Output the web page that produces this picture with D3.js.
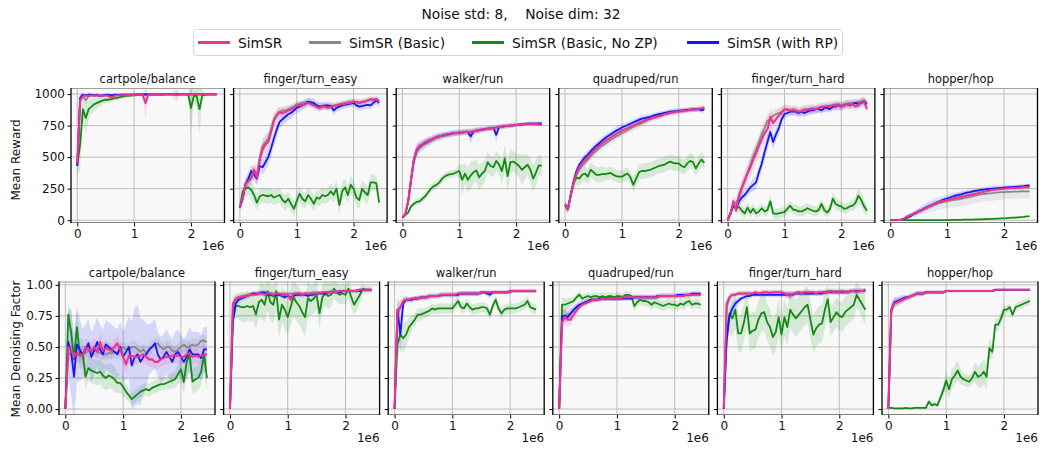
<!DOCTYPE html>
<html><head><meta charset="utf-8">
<script src="https://cdn.jsdelivr.net/npm/d3@7"></script>
<style>body{margin:0;background:#fff}svg{display:block}text{font-family:"DejaVu Sans",sans-serif}</style>
</head><body><svg id="c" width="1042" height="449"></svg>
<script>
// environment steps, in millions
const stepsM = [0,0.05,0.1,0.15,0.2,0.25,0.3,0.35,0.4,0.45,0.5,0.55,0.6,0.65,0.7,0.75,0.8,0.85,0.9,0.95,1,1.05,1.1,1.15,1.2,1.25,1.3,1.35,1.4,1.45,1.5,1.55,1.6,1.65,1.7,1.75,1.8,1.85,1.9,1.95,2,2.05,2.1,2.15,2.2,2.25,2.3,2.35,2.4,2.45];
const tasks = ["cartpole/balance","finger/turn_easy","walker/run","quadruped/run","finger/turn_hard","hopper/hop"];
const seriesNames = ["SimSR","SimSR (Basic)","SimSR (Basic, No ZP)","SimSR (with RP)"];
const xTicks = [0,1,2];
const rewardTicks = [0,250,500,750,1000];
const rewardTickLabels = ["0","250","500","750","1000"];
const denoiseTicks = [0,0.25,0.5,0.75,1.0];
const denoiseTickLabels = ["0.00","0.25","0.50","0.75","1.00"];

// ---------- Mean Reward ----------
const rwSimSR = [
[450,950,985,990,985,990,985,990,990,985, 990,985,970,985,990,990,990,990,995,990, 995,995,995,995,930,995,995,998,998,995, 998,998,998,998,998,990,998,998,998,998, 998,998,998,998,998,998,998,998,998,998],
[100,180,290,310,330,400,340,480,560,600, 620,700,790,830,860,850,860,870,880,890, 910,910,910,920,930,920,910,900,890,900, 900,890,900,905,910,915,920,920,930,930, 940,935,930,935,940,950,960,955,960,940],
[20,50,150,320,480,560,590,600,620,630, 640,650,660,665,670,675,680,685,690,690, 695,695,700,700,700,705,710,715,720,722, 725,728,730,735,740,742,745,748,750,752, 755,758,760,762,765,765,763,762,760,755],
[120,90,200,300,370,420,450,480,500,525, 550,570,590,610,625,640,655,670,685,695, 710,720,730,740,750,760,770,780,790,800, 805,810,820,825,830,840,845,850,855,860, 862,865,868,870,875,878,880,882,888,892],
[0,50,150,80,200,260,320,370,420,480, 530,590,640,690,720,820,770,800,830,850, 880,875,870,870,870,860,865,870,875,880, 880,880,890,900,900,905,900,910,910,905, 900,910,920,915,920,900,910,940,940,880],
[0,0,0,2,5,15,30,40,50,60, 70,80,90,100,110,120,130,140,150,155, 160,165,170,175,180,185,190,195,200,205, 210,215,220,225,230,235,240,243,245,248, 250,252,254,255,256,258,260,262,263,262]];
const rwBasic = [
[440,940,990,950,985,990,990,985,990,990, 990,990,985,990,995,990,995,995,995,995, 995,995,995,995,995,995,998,998,998,998, 998,998,998,998,998,998,998,998,998,998, 998,998,998,998,998,998,998,998,998,998],
[100,170,280,320,350,390,360,500,590,620, 650,720,800,840,860,870,870,880,890,900, 920,920,930,935,940,935,920,910,900,905, 905,900,905,910,915,920,925,930,935,940, 940,940,935,940,945,950,955,955,950,945],
[20,45,140,300,460,540,575,590,605,615, 625,640,650,660,665,670,675,680,685,688, 690,695,698,700,702,705,710,715,718,720, 725,728,730,735,740,742,745,748,750,752, 755,757,760,762,763,765,765,765,765,765],
[120,90,190,290,360,400,430,455,480,505, 530,550,570,590,605,620,635,650,665,675, 690,700,715,725,740,750,760,770,780,790, 800,810,815,825,830,840,845,850,855,860, 862,865,868,870,875,878,880,882,885,890],
[0,60,140,140,180,250,310,380,440,510, 560,620,680,730,790,800,830,840,850,860, 880,880,870,880,870,860,870,880,880,880, 890,880,890,900,890,900,910,910,920,920, 910,920,920,930,930,930,940,940,950,930],
[0,0,0,2,5,15,30,40,50,60, 70,80,90,100,110,120,128,135,140,145, 150,155,160,162,165,170,175,180,185,190, 195,200,205,208,210,213,215,218,220,222, 223,224,225,226,226,227,228,228,228,228]];
const rwNoZP = [
[430,600,880,810,880,900,920,930,940,950, 955,955,960,965,970,975,980,985,985,990, 990,992,995,995,995,995,995,995,995,995, 995,998,998,998,998,998,998,998,998,998, 890,985,985,880,990,995,998,998,998,998],
[100,230,250,260,240,200,140,190,200,195, 190,200,180,190,200,160,140,170,130,90, 150,210,170,150,200,170,130,180,170,200, 190,200,230,200,250,120,230,260,200,280, 250,180,160,250,220,200,300,300,295,140],
[20,40,60,110,130,145,150,170,190,220, 250,270,280,300,330,350,360,365,370,380, 390,320,370,320,355,380,395,340,370,390, 460,430,420,470,440,390,490,350,460,465, 450,430,400,420,440,400,330,380,435,430],
[120,85,200,290,340,330,360,370,345,400, 380,360,360,365,365,370,375,360,350,345, 345,360,370,340,280,330,380,390,390,395, 400,410,420,430,435,440,455,464,455,450, 450,430,420,450,470,460,410,450,480,455],
[0,60,110,95,105,75,55,100,60,90, 55,70,95,70,80,150,55,50,55,60, 65,90,115,85,80,70,70,80,95,85, 75,70,80,130,80,60,90,170,130,115, 110,90,95,110,115,140,195,160,110,75],
[0,0,0,0,0,0,0,0,0,0, 0,0,0,0,0,0,0,0,0,0, 0,1,2,2,3,3,4,4,5,5, 6,6,7,8,9,10,11,12,13,14, 15,16,18,20,20,22,24,26,30,30]];
const rwRP = [
[430,970,995,990,995,995,990,995,985,990, 995,995,990,995,995,995,995,995,995,995, 998,998,998,998,998,998,998,998,998,998, 998,998,998,998,998,998,998,998,998,998, 998,998,998,998,998,998,998,998,998,998],
[100,170,290,330,390,360,330,430,420,460, 500,570,650,720,780,800,820,840,850,870, 890,900,910,920,940,935,930,910,900,905, 910,910,905,870,890,900,910,915,920,925, 930,910,900,905,910,915,910,930,950,930],
[20,50,150,320,480,555,585,600,615,630, 640,650,660,665,672,678,682,686,690,692, 695,697,700,700,663,705,708,712,718,722, 725,728,732,676,740,742,746,748,750,752, 756,758,760,762,765,765,766,766,767,765],
[120,90,200,310,390,440,470,500,520,545, 570,590,610,630,650,665,680,695,710,720, 735,745,755,765,775,785,795,805,810,815, 820,830,835,840,845,850,855,860,862,865, 867,870,872,875,877,878,878,880,870,880],
[0,50,130,90,150,180,200,230,260,280, 300,380,450,540,620,700,620,680,730,800, 840,850,860,860,860,850,860,850,860,870, 870,880,880,870,890,890,880,900,900,910, 900,910,920,910,920,930,920,930,940,920],
[0,0,0,0,5,10,20,30,45,55, 70,80,95,105,115,125,135,145,155,165, 172,180,188,195,200,205,212,218,222,228, 232,236,240,243,246,248,250,252,254,256, 258,260,262,263,265,266,268,270,275,276]];

const rwSimSRsd = [
[60,40,20,15,10,10,10,10,10,10, 10,10,25,10,10,8,8,8,8,8, 8,8,8,8,130,8,8,6,6,6, 6,6,6,6,30,50,6,6,6,6, 6,6,6,6,6,6,6,6,6,6],
[20,30,40,40,50,60,60,70,70,70, 70,70,60,50,40,40,40,35,35,30, 30,30,30,30,30,30,30,30,30,30, 25,25,25,25,25,25,25,25,25,25, 25,25,25,25,25,25,25,25,25,25],
[5,10,20,30,40,40,30,25,25,25, 20,20,20,20,20,20,20,20,20,20, 20,20,20,20,20,20,20,20,15,15, 15,15,15,15,15,15,15,15,15,15, 15,15,15,15,15,15,15,15,15,15],
[30,30,30,30,30,30,30,30,30,30, 30,30,30,30,30,30,30,30,30,30, 25,25,25,25,25,25,25,25,25,25, 20,20,20,20,20,20,20,20,20,20, 20,20,20,20,20,20,20,20,20,20],
[5,20,40,50,60,70,70,80,80,80, 80,80,80,80,80,70,70,60,60,50, 40,40,40,40,40,40,40,40,40,40, 35,35,35,35,35,35,35,35,35,35, 35,35,35,35,35,35,35,35,35,50],
[2,2,2,3,5,8,10,12,15,15, 15,15,15,15,15,15,15,15,15,15, 15,15,15,15,15,15,15,15,15,15, 15,15,15,15,15,15,15,15,15,15, 15,15,15,15,15,15,15,15,15,15]];
const rwBasicSd = [
[60,50,20,40,20,10,10,10,10,10, 10,10,10,8,8,8,8,8,8,8, 8,8,8,8,8,8,6,6,6,6, 6,6,6,6,6,6,6,6,6,6, 6,6,6,6,6,6,6,6,6,6],
[20,30,40,40,50,50,50,60,60,60, 60,60,50,40,35,35,35,30,30,30, 25,25,25,25,25,25,25,25,25,25, 25,25,25,25,25,25,25,25,25,25, 25,25,25,25,25,25,25,25,25,25],
[5,10,20,30,50,50,40,40,35,35, 30,30,30,30,30,25,25,25,25,25, 25,25,25,25,25,25,25,20,20,20, 20,20,20,20,20,20,20,20,20,20, 15,15,15,15,15,15,15,15,15,15],
[30,30,30,30,30,30,30,30,30,30, 30,30,30,30,30,30,30,30,30,30, 30,30,30,30,30,30,30,30,30,30, 25,25,25,25,25,25,25,25,25,25, 20,20,20,20,20,20,20,20,20,20],
[5,20,40,50,60,60,60,60,60,60, 60,60,60,60,60,50,50,40,40,40, 30,30,30,30,30,30,30,30,30,30, 30,30,30,30,30,30,30,30,30,30, 30,30,30,30,30,30,30,30,30,30],
[2,2,2,3,5,8,10,12,15,20, 25,30,35,40,45,50,50,50,55,55, 55,55,60,60,60,60,60,60,60,60, 60,60,60,60,60,60,60,60,60,60, 55,55,55,55,55,55,55,55,55,55]];
const rwNoZPsd = [
[80,200,100,120,80,60,50,40,35,30, 25,25,20,20,20,15,15,15,12,12, 10,10,10,10,10,10,10,10,10,10, 10,10,10,10,10,10,10,10,10,10, 200,60,80,190,40,10,10,10,10,10],
[20,50,60,60,70,70,60,60,60,60, 60,60,60,60,60,60,60,60,60,60, 60,60,60,60,60,60,60,60,60,60, 60,60,60,60,70,70,70,70,70,70, 70,70,70,70,70,70,70,60,60,60],
[5,10,15,20,25,25,25,25,25,30, 30,30,30,30,30,30,30,30,30,30, 60,120,80,100,110,90,90,100,90,90, 80,80,80,80,80,100,100,120,100,80, 80,90,120,100,80,100,100,100,80,80],
[30,30,50,60,60,60,60,60,60,60, 60,60,60,60,50,50,50,50,50,50, 50,50,50,50,60,60,60,60,60,60, 60,60,60,60,60,60,60,60,60,60, 60,60,60,60,60,60,60,60,60,50],
[5,30,40,40,40,40,40,40,40,40, 40,40,40,40,40,50,40,40,40,40, 40,40,40,40,40,40,40,40,40,40, 40,40,40,40,40,40,40,50,50,40, 40,40,40,40,40,50,60,50,50,40],
[2,2,2,2,2,2,2,2,2,2, 2,2,2,2,2,2,2,2,2,2, 3,3,3,3,3,3,3,3,4,4, 4,4,4,4,4,5,5,5,5,5, 5,5,5,5,5,6,6,6,6,6]];
const rwRPsd = [
[60,30,8,8,8,8,8,8,10,8, 6,6,6,6,6,6,6,6,6,6, 5,5,5,5,5,5,5,5,5,5, 5,5,5,5,5,5,5,5,5,5, 5,5,5,5,5,5,5,5,5,5],
[20,30,40,50,50,50,50,60,60,60, 60,60,60,60,50,50,50,45,45,40, 40,40,35,35,35,35,35,35,35,35, 30,30,30,40,30,30,30,30,30,30, 30,30,30,30,30,30,30,30,30,30],
[5,10,20,30,50,50,40,40,35,35, 30,30,30,30,25,25,25,25,25,25, 25,25,25,25,60,25,25,25,20,20, 20,20,20,60,20,20,20,20,20,15, 15,15,15,15,15,15,15,15,15,15],
[30,30,30,30,30,30,30,30,30,30, 30,30,30,30,30,30,30,30,30,30, 25,25,25,25,25,25,25,25,25,25, 20,20,20,20,20,20,20,20,20,20, 20,20,20,20,20,20,20,20,20,20],
[5,20,30,30,40,40,40,40,40,50, 50,50,60,60,60,60,60,50,50,40, 30,30,30,30,30,30,30,30,30,30, 30,30,30,30,30,30,30,30,30,30, 30,30,30,30,30,30,30,30,30,30],
[2,2,2,3,5,8,10,15,20,25, 25,25,25,25,25,25,25,20,20,20, 20,20,20,20,20,20,20,15,15,15, 15,15,15,15,15,15,15,15,15,15, 15,15,15,15,15,15,15,15,15,15]];

// ---------- Mean Denoising Factor ----------
const dnSimSR = [
[0,.50,.47,.42,.45,.43,.43,.50,.48,.47, .50,.46,.54,.47,.49,.48,.47,.50,.53,.48, .42,.36,.43,.43,.42,.42,.43,.44,.42,.40, .40,.38,.38,.40,.41,.42,.42,.43,.43,.43, .42,.42,.44,.45,.42,.43,.42,.43,.44,.44],
[0,.85,.89,.90,.90,.91,.91,.92,.92,.92, .93,.93,.92,.93,.93,.92,.93,.93,.92,.92, .92,.88,.93,.93,.93,.92,.93,.93,.93,.93, .93,.93,.94,.94,.94,.94,.94,.94,.95,.95, .95,.95,.95,.95,.95,.96,.96,.96,.96,.96],
[0,.80,.82,.87,.88,.88,.89,.89,.89,.90, .90,.90,.91,.91,.91,.91,.92,.92,.92,.92, .92,.92,.93,.93,.93,.93,.93,.93,.93,.93, .94,.94,.94,.94,.94,.94,.94,.94,.94,.94, .95,.95,.95,.95,.95,.95,.95,.95,.95,.95],
[0,.70,.74,.72,.72,.76,.79,.82,.84,.85, .86,.87,.88,.88,.88,.89,.89,.89,.89,.89, .89,.89,.90,.90,.90,.90,.90,.90,.90,.90, .90,.90,.90,.90,.90,.91,.91,.91,.91,.91, .91,.91,.91,.91,.92,.92,.92,.92,.92,.92],
[0,.85,.90,.92,.92,.93,.93,.93,.93,.93, .93,.94,.93,.93,.94,.94,.93,.94,.94,.94, .94,.93,.92,.91,.93,.93,.94,.93,.94,.94, .94,.94,.93,.94,.94,.94,.94,.95,.94,.94, .94,.95,.94,.94,.95,.95,.94,.95,.95,.95],
[0,.80,.85,.86,.87,.88,.89,.90,.91,.92, .93,.93,.93,.94,.94,.94,.94,.94,.94,.94, .95,.95,.95,.95,.95,.95,.95,.95,.95,.95, .95,.95,.95,.95,.95,.95,.95,.96,.96,.96, .96,.96,.96,.96,.96,.96,.96,.96,.96,.96]];
const dnBasic = [
[0,.45,.44,.45,.44,.43,.44,.45,.47,.46, .48,.46,.45,.44,.44,.45,.45,.46,.45,.48, .50,.48,.48,.50,.50,.48,.46,.48,.45,.47, .50,.52,.53,.50,.48,.50,.50,.47,.46,.48, .50,.52,.50,.50,.52,.51,.52,.55,.55,.54],
[0,.80,.88,.90,.91,.91,.92,.92,.93,.93, .93,.93,.93,.93,.93,.93,.93,.92,.93,.93, .93,.93,.92,.93,.93,.93,.93,.93,.93,.94, .94,.94,.94,.94,.94,.95,.95,.95,.95,.95, .95,.95,.95,.95,.96,.96,.96,.96,.96,.96],
[0,.75,.82,.87,.88,.88,.88,.89,.89,.89, .90,.90,.90,.91,.91,.91,.91,.92,.92,.92, .92,.92,.92,.93,.93,.93,.93,.93,.93,.93, .93,.94,.94,.94,.94,.94,.94,.94,.94,.94, .94,.95,.95,.95,.95,.95,.95,.95,.95,.95],
[0,.72,.76,.76,.77,.79,.82,.84,.85,.86, .87,.88,.88,.88,.89,.89,.89,.89,.89,.89, .89,.89,.90,.90,.90,.90,.90,.90,.90,.90, .90,.90,.90,.90,.90,.91,.91,.91,.91,.91, .91,.91,.91,.91,.92,.92,.92,.92,.92,.92],
[0,.82,.90,.92,.92,.93,.93,.93,.93,.93, .93,.93,.93,.94,.94,.94,.94,.94,.94,.94, .94,.93,.93,.93,.93,.94,.94,.94,.94,.94, .94,.94,.94,.94,.94,.94,.95,.95,.95,.95, .95,.95,.95,.95,.95,.95,.95,.95,.95,.95],
[0,.78,.85,.86,.87,.88,.89,.90,.91,.92, .93,.93,.93,.94,.94,.94,.94,.94,.94,.94, .95,.95,.95,.95,.95,.95,.95,.95,.95,.95, .95,.95,.95,.95,.95,.95,.95,.96,.96,.96, .96,.96,.96,.96,.96,.96,.96,.96,.96,.96]];
const dnNoZP = [
[0,.76,.62,.40,.66,.44,.45,.26,.33,.31, .30,.29,.30,.27,.25,.27,.26,.24,.21,.21, .18,.14,.11,.08,.10,.12,.14,.15,.16,.15, .17,.18,.19,.20,.20,.21,.22,.23,.24,.28, .32,.22,.38,.44,.22,.24,.25,.30,.44,.25],
[0,.70,.83,.83,.82,.82,.83,.82,.83,.76, .86,.88,.84,.95,.86,.84,.95,.72,.84,.80, .74,.82,.90,.86,.83,.78,.74,.89,.87,.89, .92,.77,.90,.93,.91,.92,.97,.94,.92,.93, .92,.97,.90,.84,.88,.92,.97,.96,.96,.96],
[0,.52,.60,.57,.60,.66,.69,.72,.76,.76, .77,.78,.79,.81,.80,.81,.81,.81,.81,.81, .81,.84,.87,.82,.81,.85,.82,.80,.81,.81, .82,.82,.81,.76,.83,.88,.81,.77,.80,.81, .81,.81,.81,.82,.83,.84,.87,.82,.81,.80],
[0,.84,.84,.85,.86,.87,.90,.92,.89,.90, .91,.90,.91,.91,.90,.91,.90,.91,.91,.90, .91,.91,.90,.92,.92,.91,.83,.86,.88,.87, .87,.86,.84,.86,.85,.84,.83,.84,.85,.84, .84,.83,.85,.84,.86,.87,.84,.85,.85,.84],
[0,.62,.77,.73,.80,.61,.61,.70,.82,.61, .63,.64,.72,.77,.78,.70,.66,.58,.62,.74, .60,.74,.66,.80,.76,.73,.76,.79,.82,.84, .72,.60,.65,.68,.69,.80,.885,.70,.74,.78, .75,.74,.78,.80,.82,.84,.92,.88,.84,.80],
[.01,.01,.005,.005,.005,.005,.01,.005,.005,.01, .01,.01,.01,.01,.06,.03,.04,.03,.09,.15, .23,.16,.24,.27,.31,.26,.24,.23,.22,.25, .30,.26,.27,.30,.26,.49,.46,.68,.68,.73, .80,.80,.82,.76,.82,.83,.84,.85,.86,.87]];
const dnRP = [
[0,.54,.46,.26,.52,.48,.44,.48,.53,.42, .47,.54,.48,.44,.52,.50,.48,.46,.44,.50, .42,.46,.50,.35,.42,.44,.38,.42,.44,.48, .50,.53,.44,.40,.42,.46,.42,.38,.44,.46, .42,.38,.42,.48,.44,.44,.44,.41,.48,.48],
[0,.72,.85,.88,.89,.90,.91,.92,.93,.93, .93,.94,.94,.92,.92,.91,.92,.92,.91,.90, .91,.90,.91,.92,.92,.92,.92,.91,.92,.92, .93,.93,.93,.93,.94,.94,.94,.94,.94,.95, .95,.95,.95,.95,.95,.95,.96,.96,.96,.96],
[0,.80,.60,.85,.88,.88,.88,.89,.89,.90, .90,.90,.91,.91,.91,.91,.92,.92,.92,.92, .92,.92,.92,.93,.93,.93,.93,.93,.93,.93, .94,.94,.93,.92,.94,.94,.94,.94,.94,.94, .95,.95,.95,.95,.95,.95,.95,.95,.95,.95],
[0,.75,.75,.74,.77,.80,.82,.84,.85,.86, .87,.88,.88,.88,.89,.89,.89,.89,.89,.89, .89,.89,.89,.89,.89,.89,.90,.90,.90,.90, .90,.90,.90,.90,.91,.91,.91,.91,.91,.91, .91,.92,.92,.92,.92,.92,.93,.93,.93,.93],
[0,.55,.75,.81,.85,.87,.89,.90,.91,.91, .92,.92,.92,.92,.92,.92,.92,.92,.92,.92, .92,.92,.92,.92,.92,.93,.93,.93,.93,.93, .93,.93,.93,.93,.93,.94,.94,.94,.94,.94, .94,.94,.94,.94,.95,.95,.95,.95,.95,.96],
[0,.80,.86,.87,.88,.89,.90,.90,.91,.92, .93,.93,.93,.94,.94,.94,.94,.94,.94,.94, .95,.95,.95,.95,.95,.95,.95,.95,.95,.95, .95,.95,.95,.95,.95,.95,.95,.96,.96,.96, .96,.96,.96,.96,.96,.96,.96,.96,.96,.96]];

const dnSimSRsd = [
[0,.08,.08,.08,.08,.07,.07,.07,.07,.07, .07,.07,.07,.07,.07,.06,.06,.06,.06,.06, .06,.06,.06,.06,.06,.06,.06,.06,.06,.06, .06,.06,.06,.06,.06,.06,.06,.06,.06,.06, .06,.06,.06,.06,.06,.06,.06,.06,.06,.06],
[0,.05,.03,.02,.02,.02,.02,.02,.02,.02, .02,.02,.02,.02,.02,.02,.02,.02,.02,.02, .02,.03,.02,.02,.02,.02,.02,.02,.02,.02, .015,.015,.015,.015,.015,.015,.015,.015,.015,.015, .015,.015,.015,.015,.015,.015,.015,.015,.015,.015],
[0,.08,.05,.03,.02,.02,.02,.02,.02,.02, .02,.02,.02,.02,.02,.02,.02,.02,.02,.02, .02,.02,.02,.02,.02,.02,.02,.02,.02,.02, .015,.015,.015,.015,.015,.015,.015,.015,.015,.015, .015,.015,.015,.015,.015,.015,.015,.015,.015,.015],
[0,.08,.06,.06,.05,.04,.03,.03,.02,.02, .02,.02,.02,.02,.02,.02,.02,.02,.02,.02, .02,.02,.02,.02,.02,.02,.02,.02,.02,.02, .02,.02,.02,.02,.02,.02,.02,.02,.02,.02, .02,.02,.02,.02,.02,.02,.02,.02,.02,.02],
[0,.05,.03,.02,.02,.02,.02,.02,.02,.02, .02,.02,.02,.02,.02,.02,.02,.02,.02,.02, .02,.02,.03,.03,.02,.02,.02,.02,.02,.02, .02,.02,.02,.02,.02,.02,.02,.02,.02,.02, .02,.02,.02,.02,.02,.02,.02,.02,.02,.02],
[0,.05,.04,.03,.03,.03,.02,.02,.02,.02, .02,.02,.02,.015,.015,.015,.015,.015,.015,.015, .01,.01,.01,.01,.01,.01,.01,.01,.01,.01, .01,.01,.01,.01,.01,.01,.01,.01,.01,.01, .01,.01,.01,.01,.01,.01,.01,.01,.01,.01]];
const dnBasicSd = [
[0,.06,.06,.06,.06,.05,.05,.05,.05,.05, .05,.05,.05,.05,.05,.05,.05,.05,.05,.05, .05,.05,.05,.05,.05,.05,.05,.05,.05,.05, .05,.05,.05,.05,.05,.05,.05,.05,.05,.05, .05,.05,.05,.05,.05,.05,.05,.05,.05,.05],
[0,.05,.03,.02,.02,.02,.02,.02,.02,.02, .02,.02,.02,.02,.02,.02,.02,.02,.02,.02, .02,.02,.02,.02,.02,.02,.02,.02,.02,.02, .015,.015,.015,.015,.015,.015,.015,.015,.015,.015, .015,.015,.015,.015,.015,.015,.015,.015,.015,.015],
[0,.10,.06,.03,.02,.02,.02,.02,.02,.02, .02,.02,.02,.02,.02,.02,.02,.02,.02,.02, .02,.02,.02,.02,.02,.02,.02,.02,.02,.02, .015,.015,.015,.015,.015,.015,.015,.015,.015,.015, .015,.015,.015,.015,.015,.015,.015,.015,.015,.015],
[0,.07,.05,.05,.04,.04,.03,.03,.02,.02, .02,.02,.02,.02,.02,.02,.02,.02,.02,.02, .02,.02,.02,.02,.02,.02,.02,.02,.02,.02, .02,.02,.02,.02,.02,.02,.02,.02,.02,.02, .02,.02,.02,.02,.02,.02,.02,.02,.02,.02],
[0,.05,.03,.02,.02,.02,.02,.02,.02,.02, .02,.02,.02,.02,.02,.02,.02,.02,.02,.02, .02,.02,.02,.02,.02,.02,.02,.02,.02,.02, .02,.02,.02,.02,.02,.02,.02,.02,.02,.02, .02,.02,.02,.02,.02,.02,.02,.02,.02,.02],
[0,.05,.04,.04,.03,.03,.02,.02,.02,.02, .02,.02,.02,.015,.015,.015,.015,.015,.015,.015, .01,.01,.01,.01,.01,.01,.01,.01,.01,.01, .01,.01,.01,.01,.01,.01,.01,.01,.01,.01, .01,.01,.01,.01,.01,.01,.01,.01,.01,.01]];
const dnNoZPsd = [
[0,.10,.15,.15,.15,.12,.12,.10,.10,.10, .10,.10,.10,.10,.10,.10,.10,.10,.08,.08, .08,.06,.05,.05,.05,.05,.05,.05,.05,.05, .05,.05,.05,.05,.05,.05,.06,.06,.07,.08, .10,.10,.12,.12,.10,.10,.10,.10,.15,.10],
[0,.12,.10,.10,.12,.12,.12,.12,.12,.12, .12,.15,.15,.15,.15,.15,.15,.15,.15,.15, .15,.15,.15,.15,.15,.15,.15,.15,.12,.12, .12,.12,.10,.10,.10,.10,.08,.08,.08,.08, .08,.08,.08,.08,.08,.06,.04,.03,.03,.03],
[0,.10,.12,.12,.10,.08,.06,.05,.05,.05, .04,.04,.04,.04,.04,.04,.04,.04,.04,.04, .04,.04,.04,.04,.04,.04,.04,.04,.04,.04, .04,.04,.04,.04,.04,.04,.04,.04,.04,.04, .04,.04,.04,.04,.04,.04,.04,.04,.04,.04],
[0,.06,.05,.04,.04,.03,.03,.03,.03,.03, .03,.03,.03,.03,.03,.03,.03,.03,.03,.03, .03,.03,.03,.03,.03,.03,.04,.04,.04,.04, .04,.04,.04,.04,.04,.04,.04,.04,.04,.04, .04,.04,.04,.04,.04,.04,.04,.04,.04,.04],
[0,.15,.15,.15,.15,.15,.15,.15,.15,.15, .15,.15,.15,.15,.15,.15,.15,.15,.15,.15, .15,.15,.15,.15,.15,.15,.15,.15,.15,.15, .15,.15,.15,.15,.15,.15,.12,.12,.12,.12, .12,.12,.12,.12,.12,.12,.10,.10,.12,.12],
[.005,.005,.005,.005,.005,.005,.005,.005,.005,.005, .005,.005,.005,.01,.02,.02,.02,.02,.03,.05, .08,.08,.08,.08,.08,.06,.05,.05,.05,.05, .08,.08,.10,.10,.10,.08,.06,.05,.05,.05, .04,.03,.03,.03,.03,.03,.03,.03,.03,.03]];
const dnRPsd = [
[0,.25,.35,.35,.30,.25,.20,.20,.20,.20, .20,.20,.20,.20,.20,.20,.20,.20,.20,.20, .20,.22,.25,.35,.40,.40,.35,.30,.25,.20, .20,.20,.18,.18,.18,.18,.18,.18,.18,.18, .18,.18,.18,.18,.18,.18,.18,.18,.18,.18],
[0,.06,.04,.03,.02,.02,.02,.02,.02,.02, .02,.02,.02,.02,.02,.02,.02,.02,.02,.02, .02,.02,.02,.02,.02,.02,.02,.02,.02,.02, .015,.015,.015,.015,.015,.015,.015,.015,.015,.015, .015,.015,.015,.015,.015,.015,.015,.015,.015,.015],
[0,.10,.15,.05,.03,.02,.02,.02,.02,.02, .02,.02,.02,.02,.02,.02,.02,.02,.02,.02, .02,.02,.02,.02,.02,.02,.02,.02,.02,.02, .015,.015,.02,.03,.015,.015,.015,.015,.015,.015, .015,.015,.015,.015,.015,.015,.015,.015,.015,.015],
[0,.06,.05,.04,.04,.03,.03,.02,.02,.02, .02,.02,.02,.02,.02,.02,.02,.02,.02,.02, .02,.02,.02,.02,.02,.02,.02,.02,.02,.02, .02,.02,.02,.02,.02,.02,.02,.02,.02,.02, .02,.02,.02,.02,.02,.02,.02,.02,.02,.02],
[0,.08,.06,.05,.04,.03,.02,.02,.02,.02, .02,.02,.02,.02,.02,.02,.02,.02,.02,.02, .02,.02,.03,.03,.02,.02,.02,.02,.02,.02, .02,.02,.02,.02,.02,.02,.02,.02,.02,.02, .02,.02,.02,.02,.02,.02,.02,.02,.02,.02],
[0,.05,.04,.03,.03,.03,.02,.02,.02,.02, .02,.02,.02,.015,.015,.015,.015,.015,.015,.015, .01,.01,.01,.01,.01,.01,.01,.01,.01,.01, .01,.01,.01,.01,.01,.01,.01,.01,.01,.01, .01,.01,.01,.01,.01,.01,.01,.01,.01,.01]];

// ---------- drawing ----------
const colors = ["#e8358f","#888888","#138a13","#1414ff"];
const drawOrder = [2,1,3,0];
const svg = d3.select("#c");
svg.append("rect").attr("width",1042).attr("height",449).attr("fill","#fff");

svg.append("text").attr("x",521).attr("y",19).attr("text-anchor","middle")
  .attr("font-size",13.8).attr("fill","#111").attr("xml:space","preserve")
  .text("Noise std: 8,    Noise dim: 32");

// legend
const lg = svg.append("g");
lg.append("rect").attr("x",193.5).attr("y",29.5).attr("width",649).attr("height",26).attr("rx",3)
  .attr("fill","#fff").attr("stroke","#d6d6d6").attr("stroke-width",1);
const legX = [198,309,472,687];
seriesNames.forEach((n,i)=>{
  lg.append("line").attr("x1",legX[i]).attr("x2",legX[i]+32).attr("y1",42.5).attr("y2",42.5)
    .attr("stroke",colors[i]).attr("stroke-width",3);
  lg.append("text").attr("x",legX[i]+40).attr("y",47.5).attr("font-size",13.8).attr("fill","#111").text(n);
});

const rows = [
 {top:88, bottom:223, left0:71, pitch:162.6, width:153.5, yDomain:[-22,1048], ticks:rewardTicks, labels:rewardTickLabels,
  ylabel:"Mean Reward", ylabelY:160, means:[rwSimSR,rwBasic,rwNoZP,rwRP], sds:[rwSimSRsd,rwBasicSd,rwNoZPsd,rwRPsd]},
 {top:281.5, bottom:415, left0:59, pitch:164.6, width:156, yDomain:[-0.048,1.027], ticks:denoiseTicks, labels:denoiseTickLabels,
  ylabel:"Mean Denoising Factor", ylabelY:349, means:[dnSimSR,dnBasic,dnNoZP,dnRP], sds:[dnSimSRsd,dnBasicSd,dnNoZPsd,dnRPsd]}
];

let clipId = 0;
rows.forEach((row,ri)=>{
  const h = row.bottom - row.top;
  svg.append("text").attr("transform",`translate(16,${row.ylabelY}) rotate(-90)`).attr("text-anchor","middle")
    .attr("dy","0.35em").attr("font-size",12).attr("fill","#111").text(row.ylabel);
  tasks.forEach((task,pi)=>{
    const left = row.left0 + pi*row.pitch;
    const g = svg.append("g").attr("transform",`translate(${left},${row.top})`);
    const x = d3.scaleLinear().domain([-0.11,2.59]).range([0,row.width]);
    const y = d3.scaleLinear().domain(row.yDomain).range([h,0]);
    const cid = "clip"+(clipId++);
    g.append("clipPath").attr("id",cid).append("rect").attr("width",row.width).attr("height",h);
    g.append("rect").attr("width",row.width).attr("height",h).attr("fill","#f8f8f8");
    // grid
    g.selectAll(".gx").data(xTicks).join("line").attr("x1",d=>x(d)).attr("x2",d=>x(d)).attr("y1",0).attr("y2",h)
      .attr("stroke","#bdbdbd").attr("stroke-width",1);
    g.selectAll(".gy").data(row.ticks).join("line").attr("y1",d=>y(d)).attr("y2",d=>y(d)).attr("x1",0).attr("x2",row.width)
      .attr("stroke","#bdbdbd").attr("stroke-width",1);
    const plot = g.append("g").attr("clip-path",`url(#${cid})`);
    drawOrder.forEach(si=>{
      const m = row.means[si][pi], s = row.sds[si][pi];
      const n = Math.min(m.length, s.length, stepsM.length);
      const idx = d3.range(n);
      const area = d3.area().x(i=>x(stepsM[i])).y0(i=>y(m[i]-s[i])).y1(i=>y(m[i]+s[i]));
      plot.append("path").attr("d",area(idx)).attr("fill",colors[si]).attr("fill-opacity",0.15);
    });
    drawOrder.forEach(si=>{
      const m = row.means[si][pi];
      const n = Math.min(m.length, stepsM.length);
      const line = d3.line().x(i=>x(stepsM[i])).y(i=>y(m[i]));
      plot.append("path").attr("d",line(d3.range(n))).attr("fill","none").attr("stroke",colors[si])
        .attr("stroke-width",si===0?2.1:1.8).attr("stroke-linejoin","round");
    });
    // spines
    g.append("line").attr("x1",0).attr("x2",row.width).attr("y1",0.5).attr("y2",0.5).attr("stroke","#a0a0a0").attr("stroke-width",1);
    g.append("line").attr("x1",0).attr("x2",row.width).attr("y1",h-0.5).attr("y2",h-0.5).attr("stroke","#808080").attr("stroke-width",1);
    g.append("line").attr("x1",0).attr("x2",0).attr("y1",0).attr("y2",h).attr("stroke","#000").attr("stroke-width",1.3);
    g.append("line").attr("x1",row.width).attr("x2",row.width).attr("y1",0).attr("y2",h).attr("stroke","#000").attr("stroke-width",1.3);
    // axes
    const ya = d3.axisLeft(y).tickValues(row.ticks).tickSize(3.5).tickPadding(2.5)
      .tickFormat((d,i)=> pi===0 ? row.labels[i] : "");
    const yg = g.append("g").call(ya);
    const xa = d3.axisBottom(x).tickValues(xTicks).tickSize(3.5).tickPadding(2.5).tickFormat(d3.format("d"));
    const xg = g.append("g").attr("transform",`translate(0,${h})`).call(xa);
    [yg,xg].forEach(a=>{
      a.select(".domain").remove();
      a.selectAll(".tick line").attr("stroke","#000").attr("stroke-width",1);
      a.selectAll(".tick text").attr("font-size",12).attr("fill","#111").attr("font-family","DejaVu Sans, sans-serif");
    });
    g.append("text").attr("x",row.width).attr("y",h+27).attr("text-anchor","end").attr("font-size",12).attr("fill","#111").text("1e6");
    g.append("text").attr("x",row.width/2).attr("y",-5).attr("text-anchor","middle").attr("font-size",11.5).attr("fill","#111").text(task);
  });
});
</script></body></html>
